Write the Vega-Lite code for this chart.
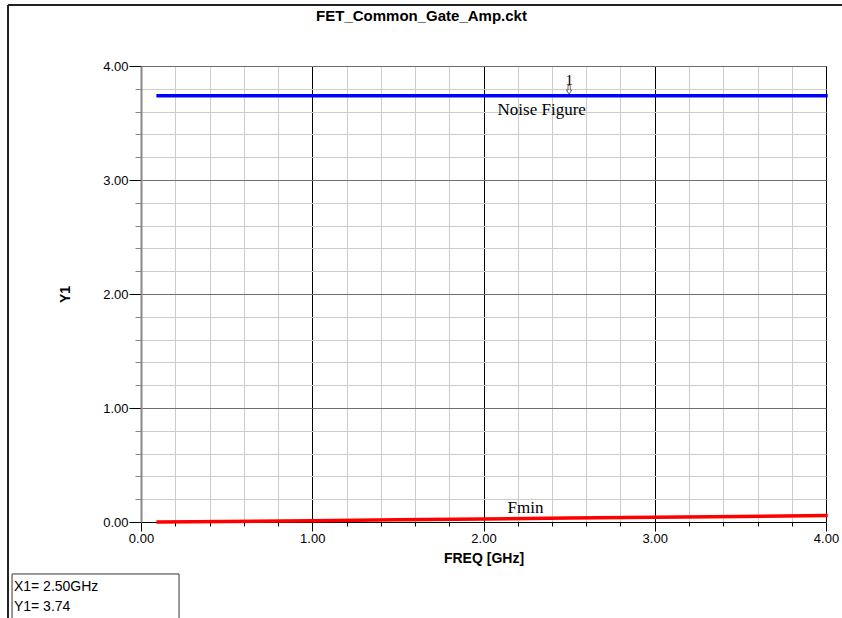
{
  "$schema": "https://vega.github.io/schema/vega-lite/v6.json",
  "autosize": "none",
  "width": 685,
  "height": 456,
  "padding": {"left": 141, "top": 66, "right": 16, "bottom": 96},
  "background": "white",
  "title": {
    "text": "FET_Common_Gate_Amp.ckt",
    "font": "Liberation Sans",
    "fontSize": 15,
    "fontWeight": "bold",
    "color": "black",
    "anchor": "middle",
    "dx": -62,
    "offset": -20
  },
  "config": {
    "view": {"stroke": "black", "strokeWidth": 1},
    "font": "Liberation Sans"
  },
  "datasets": {
    "traces": [
      {"freq": 0.1, "value": 3.74, "trace": "Noise Figure"},
      {"freq": 1.0, "value": 3.74, "trace": "Noise Figure"},
      {"freq": 2.0, "value": 3.74, "trace": "Noise Figure"},
      {"freq": 3.0, "value": 3.74, "trace": "Noise Figure"},
      {"freq": 4.0, "value": 3.74, "trace": "Noise Figure"},
      {"freq": 0.1, "value": 0.001, "trace": "Fmin"},
      {"freq": 0.5, "value": 0.005, "trace": "Fmin"},
      {"freq": 1.0, "value": 0.012, "trace": "Fmin"},
      {"freq": 1.5, "value": 0.019, "trace": "Fmin"},
      {"freq": 2.0, "value": 0.027, "trace": "Fmin"},
      {"freq": 2.5, "value": 0.034, "trace": "Fmin"},
      {"freq": 3.0, "value": 0.042, "trace": "Fmin"},
      {"freq": 3.5, "value": 0.049, "trace": "Fmin"},
      {"freq": 4.0, "value": 0.056, "trace": "Fmin"}
    ],
    "labels": [
      {"freq": 2.34, "value": 3.61, "text": "Noise Figure"},
      {"freq": 2.245, "value": 0.12, "text": "Fmin"}
    ],
    "marker": [{"freq": 2.5, "value": 3.74, "text": "1"}],
    "readout": [
      {"x": -0.742, "y": -0.57, "text": "X1= 2.50GHz"},
      {"x": -0.742, "y": -0.746, "text": "Y1= 3.74"}
    ],
    "box": [{"x": -0.753, "x2": 0.222, "y": -0.456, "y2": -0.95}],
    "frame": [
      {"x": -0.7766, "x2": -0.7766, "y": -0.95, "y2": 4.535},
      {"x": -0.7766, "x2": 4.2, "y": 4.535, "y2": 4.535}
    ]
  },
  "layer": [
    {
      "data": {"name": "traces"},
      "mark": {"type": "line", "strokeWidth": 3.5, "strokeCap": "square"},
      "encoding": {
        "x": {
          "field": "freq",
          "type": "quantitative",
          "scale": {"domain": [0, 4], "nice": false, "zero": false},
          "axis": {
            "values": [0, 0.2, 0.4, 0.6, 0.8, 1, 1.2, 1.4, 1.6, 1.8, 2, 2.2, 2.4, 2.6, 2.8, 3, 3.2, 3.4, 3.6, 3.8, 4],
            "tickCount": 40,
            "title": "FREQ [GHz]",
            "titleFont": "Liberation Sans",
            "titleFontSize": 14,
            "titleFontWeight": "bold",
            "titleColor": "black",
            "titlePadding": 6,
            "labelExpr": "abs(datum.value - round(datum.value)) < 0.001 ? format(datum.value, '.2f') : ''",
            "labelFont": "Liberation Sans",
            "labelFontSize": 13,
            "labelColor": "black",
            "labelFlush": false,
            "labelOverlap": false,
            "labelPadding": 1,
            "domainColor": "black",
            "domainWidth": 1,
            "tickColor": "black",
            "tickSize": {"condition": {"test": "abs(datum.value - round(datum.value)) < 0.001", "value": 9}, "value": 4},
            "grid": true,
            "gridColor": {"condition": {"test": "abs(datum.value - round(datum.value)) < 0.001", "value": "#000000"}, "value": "#cccccc"},
            "gridWidth": 1
          }
        },
        "y": {
          "field": "value",
          "type": "quantitative",
          "scale": {"domain": [0, 4], "nice": false, "zero": false},
          "axis": {
            "values": [0, 0.2, 0.4, 0.6, 0.8, 1, 1.2, 1.4, 1.6, 1.8, 2, 2.2, 2.4, 2.6, 2.8, 3, 3.2, 3.4, 3.6, 3.8, 4],
            "tickCount": 40,
            "title": "Y1",
            "titleFont": "Liberation Sans",
            "titleFontSize": 14,
            "titleFontWeight": "bold",
            "titleColor": "black",
            "titlePadding": 30,
            "labelExpr": "abs(datum.value - round(datum.value)) < 0.001 ? format(datum.value, '.2f') : ''",
            "labelFont": "Liberation Sans",
            "labelFontSize": 13,
            "labelColor": "black",
            "labelFlush": false,
            "labelOverlap": false,
            "labelPadding": 1,
            "domainColor": "#888888",
            "domainWidth": 2,
            "tickColor": {"condition": {"test": "abs(datum.value - round(datum.value)) < 0.001", "value": "#000000"}, "value": "#888888"},
            "tickSize": {"condition": {"test": "abs(datum.value - round(datum.value)) < 0.001", "value": 12}, "value": 6},
            "grid": true,
            "gridColor": {"condition": {"test": "abs(datum.value - round(datum.value)) < 0.001", "value": "#6e6e6e"}, "value": "#cccccc"},
            "gridWidth": 1
          }
        },
        "color": {
          "field": "trace",
          "type": "nominal",
          "scale": {"domain": ["Noise Figure", "Fmin"], "range": ["#0000ff", "#ff0000"]},
          "legend": null
        }
      }
    },
    {
      "data": {"name": "labels"},
      "mark": {"type": "text", "font": "Liberation Serif", "fontSize": 17, "color": "black"},
      "encoding": {
        "x": {"field": "freq", "type": "quantitative"},
        "y": {"field": "value", "type": "quantitative"},
        "text": {"field": "text"}
      }
    },
    {
      "data": {"name": "marker"},
      "mark": {"type": "text", "font": "Liberation Serif", "fontSize": 15, "color": "black", "dy": -16},
      "encoding": {
        "x": {"field": "freq", "type": "quantitative"},
        "y": {"field": "value", "type": "quantitative"},
        "text": {"field": "text"}
      }
    },
    {
      "data": {"name": "marker"},
      "mark": {
        "type": "point",
        "shape": "M-0.25,-1 L0.25,-1 L0.25,0.1 L0.6,0.1 L0,1 L-0.6,0.1 L-0.25,0.1 Z",
        "size": 80,
        "filled": false,
        "stroke": "black",
        "strokeWidth": 0.8,
        "yOffset": -6
      },
      "encoding": {
        "x": {"field": "freq", "type": "quantitative"},
        "y": {"field": "value", "type": "quantitative"}
      }
    },
    {
      "data": {"name": "box"},
      "mark": {"type": "rect", "fill": null, "stroke": "#333333", "strokeWidth": 1, "clip": false},
      "encoding": {
        "x": {"field": "x", "type": "quantitative"},
        "x2": {"field": "x2"},
        "y": {"field": "y", "type": "quantitative"},
        "y2": {"field": "y2"}
      }
    },
    {
      "data": {"name": "readout"},
      "mark": {"type": "text", "align": "left", "baseline": "middle", "font": "Liberation Sans", "fontSize": 14, "color": "black", "clip": false},
      "encoding": {
        "x": {"field": "x", "type": "quantitative"},
        "y": {"field": "y", "type": "quantitative"},
        "text": {"field": "text"}
      }
    },
    {
      "data": {"name": "frame"},
      "mark": {"type": "rule", "stroke": "#222222", "strokeWidth": 2, "clip": false},
      "encoding": {
        "x": {"field": "x", "type": "quantitative"},
        "x2": {"field": "x2"},
        "y": {"field": "y", "type": "quantitative"},
        "y2": {"field": "y2"}
      }
    }
  ]
}
